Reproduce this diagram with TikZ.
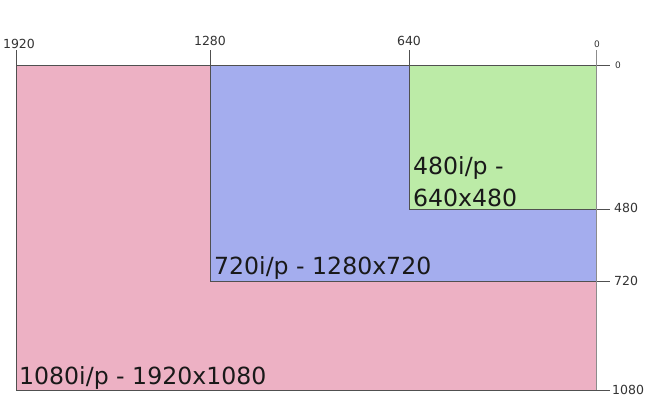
\documentclass[tikz,border=0pt]{standalone}
\usepackage{fontspec}
\setmainfont{DejaVu Sans}
\definecolor{rosa}{HTML}{EDB1C4}
\definecolor{lila}{HTML}{A4ADEE}
\definecolor{verde}{HTML}{BCEBA7}
\definecolor{borde}{HTML}{505050}
\begin{document}
\begin{tikzpicture}[
		x=1pt, y=-1pt, line join=miter, line cap=butt,
		every node/.style={inner sep=0pt},
		marco/.style={line width=0.8pt, borde},
		eje/.style={font=\fontsize{12.5}{14}\selectfont, text=black!80},
		cero/.style={font=\fontsize{9}{11}\selectfont, text=black!80},
		titulo/.style={font=\fontsize{23.6}{28}\selectfont, anchor=base west, text=black!90}
	]
	\useasboundingbox (0,0) rectangle (650,416);
	\pgfmathsetmacro{\xa}{16}
	\pgfmathsetmacro{\xb}{210}
	\pgfmathsetmacro{\xc}{409}
	\pgfmathsetmacro{\xd}{596}
	\pgfmathsetmacro{\ya}{65}
	\pgfmathsetmacro{\yb}{209}
	\pgfmathsetmacro{\yc}{281}
	\pgfmathsetmacro{\yd}{390}
	
	% 1. RECTANGULOS
	\fill[rosa] (\xa,\ya) rectangle (\xd,\yd);
	\fill[lila] (\xb,\ya) rectangle (\xd,\yc);
	\fill[verde] (\xc,\ya) rectangle (\xd,\yb);
	
	% 2. BORDES Y MARCAS
	\draw[marco] (\xa,50) -- (\xa,\yd) -- (610,\yd);
	\draw[marco] (\xb,50) -- (\xb,\yc) -- (610,\yc);
	\draw[marco] (\xc,50) -- (\xc,\yb) -- (610,\yb);
	\draw[marco] (\xa,\ya) -- (610,\ya);
	\draw[line width=0.8pt, black!45] (\xd,50) -- (\xd,\yd);
	
	% 3. ETIQUETAS ARRIBA
	\node[eje, anchor=base] (t1920) at (\xa+3,48) {1920};
	\node[eje, anchor=base] (t1280) at (\xb,45) {1280};
	\node[eje, anchor=base] (t640) at (\xc,45) {640};
	\node[cero, anchor=base] (t0) at (\xd+1,47) {0};
	
	% 4. ETIQUETAS DERECHA
	\node[cero, anchor=west] (r0) at (615,\ya) {0};
	\node[eje, anchor=west] (r480) at (614,\yb-1) {480};
	\node[eje, anchor=west] (r720) at (614,\yc) {720};
	\node[eje, anchor=west] (r1080) at (612,\yd) {1080};
	
	% 5. NOMBRES DE FORMATOS
	\node[titulo] (n480a) at (413,174) {480i/p -};
	\node[titulo] (n480b) at (413,206) {640x480};
	\node[titulo] (n720) at (214,274) {720i/p - 1280x720};
	\node[titulo] (n1080) at (19,384) {1080i/p - 1920x1080};
	
\end{tikzpicture}
\end{document}
